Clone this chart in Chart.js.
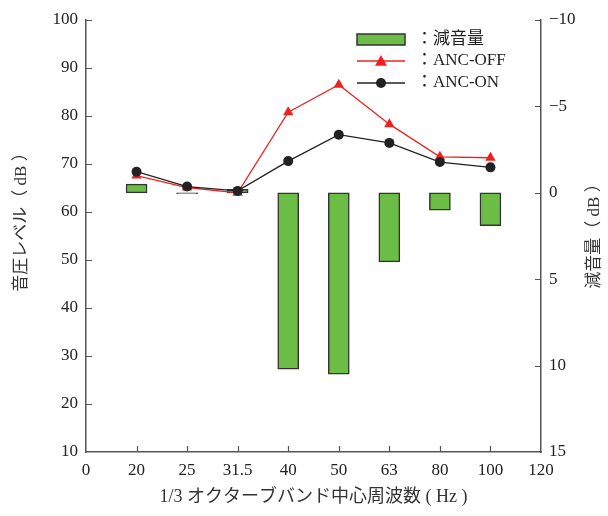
<!DOCTYPE html>
<html>
<head>
<meta charset="utf-8">
<script src="https://cdn.jsdelivr.net/npm/chart.js@4.4.1/dist/chart.umd.min.js"></script>
<style>
  html, body { margin: 0; padding: 0; background: #fff; }
</style>
</head>
<body>
<canvas id="chart" width="608" height="516"></canvas>
<script>
// 1/3 octave band centre frequencies (placed at equal steps 1..8 on the x axis)
const categories = ['20', '25', '31.5', '40', '50', '63', '80', '100'];
const xTickLabels = ['0', '20', '25', '31.5', '40', '50', '63', '80', '100', '120'];

// sound pressure level (dB)
const ancOff = [67.6, 65.1, 64.0, 80.8, 86.5, 78.3, 71.5, 71.3];
const ancOn = [68.4, 65.3, 64.4, 70.6, 76.1, 74.4, 70.4, 69.3];
// noise reduction (dB), right axis (reversed)
const reduction = [-0.5, 0.05, -0.2, 10.2, 10.5, 4.0, 1.0, 1.9];

const serif = "'Liberation Serif', 'Noto Sans CJK JP', serif";
const axisColor = '#555';

const pts = (arr) => arr.map((v, i) => ({ x: i + 1, y: v }));

// inward tick marks, axis titles and the legend in the plot
const decorPlugin = {
    id: 'decor',
    afterDraw(chart) {
        const ctx = chart.ctx;
        const a = chart.chartArea;
        const { x, y, y2 } = chart.scales;
        ctx.save();
        ctx.strokeStyle = axisColor;
        ctx.lineWidth = 1.2;
        ctx.beginPath();
        x.ticks.forEach(t => {
            if (t.value <= x.min || t.value >= x.max) return;
            const px = Math.round(x.getPixelForValue(t.value)) + 0.5;
            ctx.moveTo(px, a.bottom);
            ctx.lineTo(px, a.bottom - 6);
        });
        y.ticks.forEach(t => {
            if (t.value <= y.min) return;
            const py = Math.round(y.getPixelForValue(t.value)) + 0.5;
            ctx.moveTo(a.left, py);
            ctx.lineTo(a.left + 6, py);
        });
        y2.ticks.forEach(t => {
            if (t.value >= y2.max) return;
            const py = Math.round(y2.getPixelForValue(t.value)) + 0.5;
            ctx.moveTo(a.right, py);
            ctx.lineTo(a.right - 6, py);
        });
        ctx.stroke();

        // axis titles
        ctx.fillStyle = '#333';
        ctx.font = '17px ' + serif;
        ctx.textAlign = 'center';
        ctx.textBaseline = 'middle';
        ctx.save();
        ctx.translate(22, 218);
        ctx.rotate(-Math.PI / 2);
        ctx.fillText('音圧レベル（ dB ）', 0, 0);
        ctx.restore();
        ctx.save();
        ctx.translate(595, 232);
        ctx.rotate(-Math.PI / 2);
        ctx.fillText('減音量（ dB ）', 0, 0);
        ctx.restore();
        ctx.font = '18px ' + serif;
        ctx.fillText('1/3 オクターブバンド中心周波数 ( Hz )', (a.left + a.right) / 2, 497);

        // legend
        const ds = chart.data.datasets;
        const lx = 357, lw = 48, tx = 416;
        ctx.textAlign = 'left';
        ctx.font = '17px ' + serif;
        ctx.fillStyle = ds[0].backgroundColor;
        ctx.fillRect(lx, 34, lw, 11);
        ctx.strokeStyle = ds[0].borderColor;
        ctx.lineWidth = 1.5;
        ctx.strokeRect(lx, 34, lw, 11);
        ctx.fillStyle = '#222';
        ctx.fillText('：減音量', tx, 40);

        [[ds[1], 61], [ds[2], 83]].forEach(([d, ly]) => {
            ctx.strokeStyle = d.borderColor;
            ctx.lineWidth = d.borderWidth;
            ctx.beginPath();
            ctx.moveTo(lx, ly);
            ctx.lineTo(lx + lw, ly);
            ctx.stroke();
            ctx.fillStyle = d.pointBackgroundColor;
            ctx.beginPath();
            if (d.pointStyle === 'triangle') {
                const r = d.pointRadius;
                ctx.moveTo(lx + lw / 2, ly - r);
                ctx.lineTo(lx + lw / 2 + r, ly + r * 0.8);
                ctx.lineTo(lx + lw / 2 - r, ly + r * 0.8);
                ctx.closePath();
            } else {
                ctx.arc(lx + lw / 2, ly, d.pointRadius, 0, Math.PI * 2);
            }
            ctx.fill();
            ctx.fillStyle = '#222';
            ctx.fillText('：' + d.label, tx, ly);
        });
        ctx.restore();
    }
};

const tickFont = { family: serif, size: 17 };

new Chart(document.getElementById('chart').getContext('2d'), {
    type: 'bar',
    data: {
        datasets: [{
            type: 'bar',
            label: '減音量',
            data: pts(reduction),
            yAxisID: 'y2',
            backgroundColor: '#6cbd45',
            borderColor: '#333',
            borderWidth: 1.5,
            borderSkipped: false,
            barThickness: 21,
            order: 3
        }, {
            type: 'line',
            label: 'ANC-OFF',
            data: pts(ancOff),
            yAxisID: 'y',
            borderColor: '#f02020',
            borderWidth: 1.3,
            pointStyle: 'triangle',
            pointRadius: 6,
            pointBackgroundColor: '#f02020',
            pointBorderColor: '#f02020',
            pointBorderWidth: 0,
            order: 2
        }, {
            type: 'line',
            label: 'ANC-ON',
            data: pts(ancOn),
            yAxisID: 'y',
            borderColor: '#222',
            borderWidth: 1.3,
            pointStyle: 'circle',
            pointRadius: 5,
            pointBackgroundColor: '#222',
            pointBorderColor: '#222',
            pointBorderWidth: 0,
            order: 1
        }]
    },
    options: {
        responsive: false,
        animation: false,
        layout: { padding: { top: 20, left: 0, right: 0, bottom: 0 } },
        plugins: {
            legend: { display: false },
            tooltip: { enabled: false }
        },
        scales: {
            x: {
                type: 'linear',
                min: 0,
                max: 9,
                offset: false,
                grid: { display: false, drawTicks: false },
                border: { display: true, color: axisColor, width: 1.5 },
                ticks: {
                    stepSize: 1,
                    autoSkip: false,
                    maxRotation: 0,
                    padding: 8,
                    color: '#222',
                    font: tickFont,
                    callback: (v) => xTickLabels[v]
                },
                afterFit: (s) => { s.height = 64; }
            },
            y: {
                position: 'left',
                min: 10,
                max: 100,
                grid: { display: false, drawTicks: false },
                border: { display: true, color: axisColor, width: 1.5 },
                ticks: { stepSize: 10, padding: 8, color: '#222', font: tickFont },
                afterFit: (s) => { s.width = 86; }
            },
            y2: {
                position: 'right',
                min: -10,
                max: 15,
                reverse: true,
                grid: { display: false, drawTicks: false },
                border: { display: true, color: axisColor, width: 1.5 },
                ticks: {
                    stepSize: 5,
                    padding: 8,
                    color: '#222',
                    font: tickFont,
                    callback: (v) => String(v).replace('-', '−')
                },
                afterFit: (s) => { s.width = 67; }
            }
        }
    },
    plugins: [decorPlugin]
});
</script>
</body>
</html>
